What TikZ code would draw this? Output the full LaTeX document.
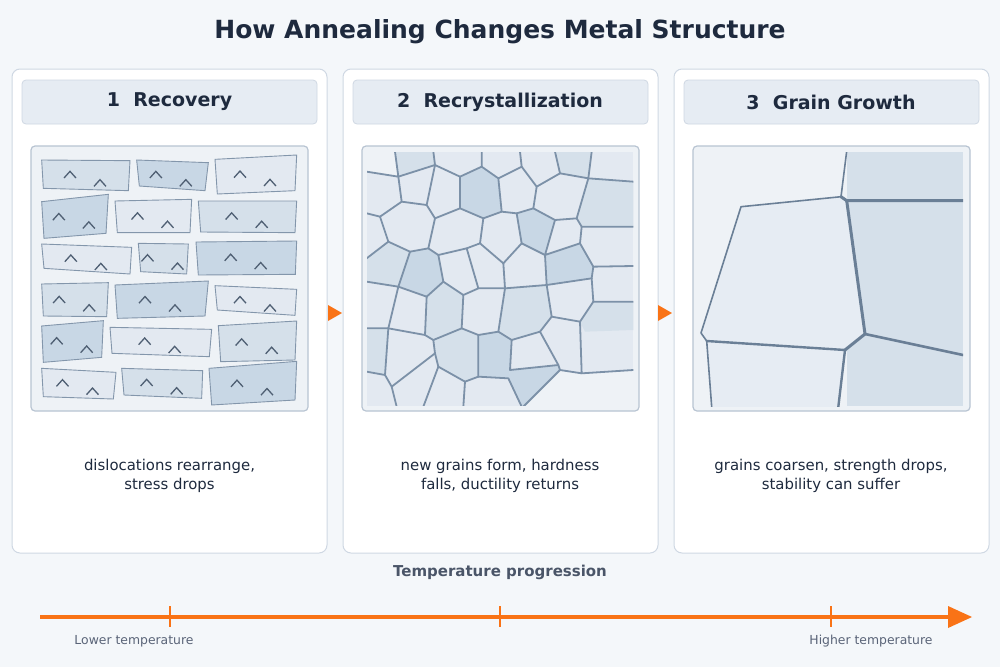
\documentclass[tikz,border=0pt]{standalone}
\usepackage{fontspec}
\setmainfont{DejaVu Sans}
\usetikzlibrary{calc}
\definecolor{bg}{HTML}{F4F7FA}
\definecolor{cardb}{HTML}{CFD8E3}
\definecolor{hdr}{HTML}{E6ECF3}
\definecolor{imgbg}{HTML}{EEF2F6}
\definecolor{imgb}{HTML}{B8C4D2}
\definecolor{gl}{HTML}{E3E9F1}
\definecolor{gm}{HTML}{D5E0EA}
\definecolor{gd}{HTML}{C8D7E5}
\definecolor{bst}{HTML}{8396AB}
\definecolor{chev}{HTML}{4F5F73}
\definecolor{vst}{HTML}{7C91A8}
\definecolor{gst}{HTML}{6A7F96}
\definecolor{ink}{HTML}{1E2A3E}
\definecolor{sub}{HTML}{4A5568}
\definecolor{lab}{HTML}{5A6478}
\definecolor{orn}{HTML}{F97316}
\tikzset{
 card/.style={draw=cardb,fill=white,rounded corners=8pt,line width=1pt},
 hbox/.style={draw=cardb,fill=hdr,rounded corners=4pt,line width=0.8pt},
 ibox/.style={draw=imgb,fill=imgbg,rounded corners=4pt,line width=1.2pt},
 htxt/.style={font=\bfseries\fontsize{19}{22}\selectfont,text=ink},
 ctxt/.style={font=\fontsize{14.9}{19}\selectfont,text=ink,align=center},
 brick/.style={draw=bst,line width=0.9pt},
 chv/.style={draw=chev,line width=1.3pt},
 ve/.style={draw=vst,line width=1.8pt,line cap=round,line join=round},
 ge/.style={draw=gst,line cap=round,line join=round},
 otri/.style={fill=orn,draw=none}
}
\newcommand{\brk}[5]{%
 \path[brick,fill=#5] (#1)--(#2)--(#3)--(#4)--cycle;
 \coordinate (bc) at ($(#1)!0.5!(#3)$);
 \draw[chv] ($(bc)+(-63,8)$)--($(bc)+(-45,-12)$)--($(bc)+(-27,8)$);
 \draw[chv] ($(bc)+(27,33)$)--($(bc)+(45,13)$)--($(bc)+(63,33)$);}
\begin{document}
\begin{tikzpicture}[x=1pt,y=-1pt]
\fill[bg] (0,0) rectangle (1000,667);
\useasboundingbox (0,0) rectangle (1000,667);
\node[font=\bfseries\fontsize{25}{28}\selectfont,text=ink] (title) at (500,32) {How Annealing Changes Metal Structure};
% cards
\foreach \x/\n in {12/c1,343/c2,674/c3}{
 \path[card] (\x,69) rectangle ++(315,484);
 \path[hbox] (\x+10,80) rectangle ++(295,44);
 \path[ibox] (\x+19,146) rectangle ++(277,265);
}
\node[htxt] (h1) at (169.5,102) {1\ \ Recovery};
\node[htxt] (h2) at (500,102) {2\ \ Recrystallization};
\node[htxt] (h3) at (831,102) {3\ \ Grain Growth};
\node[ctxt] (t1) at (169.5,476) {dislocations rearrange,\\stress drops};
\node[ctxt] (t2) at (500,476) {new grains form, hardness\\falls, ductility returns};
\node[ctxt] (t3) at (831,476) {grains coarsen, strength drops,\\stability can suffer};
\path[otri] (328,305)--(342,313)--(328,321)--cycle;
\path[otri] (658,305)--(672,313)--(658,321)--cycle;
% panel 1
\begin{scope}[shift={(20,140)},scale=1/3]
\brk{65,60}{330,62}{325,152}{70,145}{gm}
\brk{350,60}{565,68}{555,152}{358,138}{gd}
\brk{585,58}{830,45}{825,152}{592,162}{gl}
\brk{65,185}{265,163}{258,280}{72,295}{gd}
\brk{285,183}{515,178}{510,278}{292,278}{gl}
\brk{535,183}{830,183}{825,278}{542,276}{gm}
\brk{65,312}{335,322}{330,402}{72,385}{gl}
\brk{355,310}{505,312}{500,402}{362,395}{gm}
\brk{528,306}{830,303}{826,403}{535,405}{gd}
\brk{65,432}{265,428}{260,530}{70,528}{gm}
\brk{285,435}{565,423}{555,528}{292,535}{gd}
\brk{585,437}{830,448}{825,526}{592,510}{gl}
\brk{65,558}{250,542}{245,652}{70,667}{gd}
\brk{270,562}{575,568}{568,650}{276,640}{gl}
\brk{595,557}{830,543}{825,660}{602,665}{gm}
\brk{65,685}{288,697}{280,777}{70,770}{gl}
\brk{305,685}{548,692}{545,775}{312,765}{gm}
\brk{567,685}{830,664}{825,780}{575,795}{gd}
\end{scope}
% panel 2
\begin{scope}[shift={(355,140)},scale=1/3]
\clip (36,36) rectangle (835,797);
\fill[gl] (36,36) rectangle (835,797);
\fill[imgbg] (36,36)--(120,36)--(130,110)--(35,95)--cycle;
\fill[imgbg] (505,800)--(615,690)--(680,700)--(835,690)--(835,800)--cycle;
\fill[gd] (315,110)--(380,80)--(430,115)--(440,215)--(385,235)--(315,205)--cycle;
\fill[gd] (485,220)--(535,205)--(600,240)--(570,345)--(500,310)--cycle;
\fill[gd] (165,335)--(220,325)--(250,345)--(265,425)--(215,470)--(130,440)--cycle;
\fill[gm] (215,470)--(265,425)--(325,465)--(320,565)--(235,600)--(210,585)--cycle;
\fill[gd] (570,345)--(675,310)--(715,380)--(710,415)--(575,435)--cycle;
\fill[gd] (370,585)--(430,575)--(470,600)--(465,690)--(460,715)--(370,710)--cycle;
\fill[gd] (460,715)--(465,690)--(610,675)--(615,690)--(505,800)--(500,800)--cycle;
\fill[gm] (715,485)--(835,485)--(835,570)--(690,575)--(675,545)--cycle;
\fill[gm] (120,35)--(235,35)--(240,75)--(130,110)--cycle;
\fill[gm] (600,35)--(710,35)--(700,115)--(615,100)--cycle;
\fill[gm] (700,115)--(835,125)--(835,260)--(680,260)--(665,235)--cycle;
\fill[gm] (35,355)--(100,305)--(165,335)--(130,440)--(35,425)--cycle;
\fill[gm] (35,565)--(100,565)--(90,705)--(35,695)--cycle;
\fill[gm] (240,640)--(250,680)--(330,725)--(370,710)--(370,585)--(320,565)--(235,600)--cycle;
\fill[gm] (450,445)--(575,435)--(590,530)--(555,575)--(470,600)--(430,575)--cycle;
\draw[ve] (35,95)--(130,110)--(120,35);
\draw[ve] (130,110)--(240,75)--(235,35);
\draw[ve] (130,110)--(140,185)--(75,230)--(35,220);
\draw[ve] (140,185)--(215,195)--(240,75)--(315,110)--(380,80)--(380,35);
\draw[ve] (380,80)--(430,115)--(500,80)--(495,35);
\draw[ve] (500,80)--(545,140)--(535,205);
\draw[ve] (430,115)--(440,215);
\draw[ve] (315,110)--(315,205);
\draw[ve] (215,195)--(240,235)--(315,205)--(385,235)--(440,215)--(485,220)--(535,205);
\draw[ve] (545,140)--(615,100)--(600,35);
\draw[ve] (615,100)--(700,115)--(710,35);
\draw[ve] (700,115)--(665,235)--(600,240)--(535,205);
\draw[ve] (700,115)--(835,125);
\draw[ve] (665,235)--(680,260)--(835,260);
\draw[ve] (680,260)--(675,310)--(715,380)--(835,378);
\draw[ve] (600,240)--(570,345)--(675,310);
\draw[ve] (485,220)--(500,310)--(570,345);
\draw[ve] (500,310)--(445,370)--(375,310)--(385,235);
\draw[ve] (75,230)--(100,305)--(35,355);
\draw[ve] (100,305)--(165,335)--(220,325)--(240,235);
\draw[ve] (220,325)--(250,345)--(335,325)--(375,310);
\draw[ve] (335,325)--(370,445);
\draw[ve] (250,345)--(265,425)--(215,470);
\draw[ve] (265,425)--(325,465)--(370,445)--(450,445)--(445,370);
\draw[ve] (450,445)--(575,435)--(570,345);
\draw[ve] (575,435)--(710,415)--(715,380);
\draw[ve] (710,415)--(715,485)--(835,485);
\draw[ve] (715,485)--(675,545)--(590,530)--(575,435);
\draw[ve] (590,530)--(555,575)--(470,600)--(430,575)--(450,445);
\draw[ve] (430,575)--(370,585)--(320,565)--(325,465);
\draw[ve] (320,565)--(235,600)--(210,585)--(215,470);
\draw[ve] (165,335)--(130,440)--(215,470);
\draw[ve] (35,425)--(130,440)--(100,565)--(35,565);
\draw[ve] (100,565)--(210,585);
\draw[ve] (100,565)--(90,705)--(35,695);
\draw[ve] (90,705)--(110,740)--(125,800);
\draw[ve] (235,600)--(240,640)--(110,740);
\draw[ve] (240,640)--(250,680)--(330,725)--(325,800);
\draw[ve] (250,680)--(205,800);
\draw[ve] (330,725)--(370,710)--(370,585);
\draw[ve] (370,710)--(460,715)--(500,800);
\draw[ve] (470,600)--(465,690)--(610,675);
\draw[ve] (555,575)--(610,675)--(615,690)--(680,700)--(835,690);
\draw[ve] (615,690)--(505,800);
\draw[ve] (675,545)--(680,700);
\end{scope}
% panel 3
\begin{scope}
\clip (693,152) rectangle (963,406);
\fill[gm] (846.7,151) rectangle (963,406);
\fill[hdr] (741,206.7)--(841,196.7)--(846.7,200.7)--(865,334)--(845,350)--(706.7,341)--(701,333)--cycle;
\fill[hdr] (706.7,341)--(845,350)--(838.3,407)--(711.7,407)--cycle;
\draw[ge,line width=1.6pt] (846.7,151)--(841,196.7)--(741,206.7)--(701,333)--(706.7,341)--(711.7,407);
\draw[ge,line width=2.4pt] (706.7,341)--(845,350)--(838.3,407);
\draw[ge,line width=3pt] (841,196.7)--(846.7,200.7)--(963,200.7);
\draw[ge,line width=3pt] (846.7,200.7)--(865,334)--(845,350);
\draw[ge,line width=2.6pt] (865,334)--(963,355);
\end{scope}
% temperature
\node[font=\bfseries\fontsize{15}{17}\selectfont,text=sub] (tp) at (500,572) {Temperature progression};
\coordinate (a0) at (40,617);
\coordinate (a1) at (952,617);
\draw[orn,line width=4.5pt] (a0)--(a1);
\path[otri] (948,606)--(972,617)--(948,628)--cycle;
\foreach \x in {170,500,831}{\draw[orn,line width=1.8pt] (\x,606)--(\x,627);}
\node[font=\fontsize{12.4}{14}\selectfont,text=lab] (lo) at (134,641) {Lower temperature};
\node[font=\fontsize{12.4}{14}\selectfont,text=lab] (hi) at (871,641) {Higher temperature};
\end{tikzpicture}
\end{document}
